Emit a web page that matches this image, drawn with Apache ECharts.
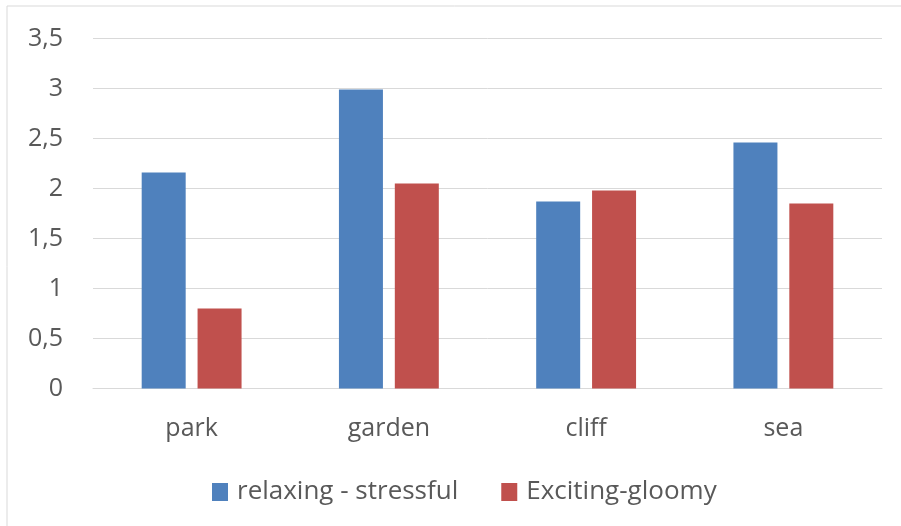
<!DOCTYPE html>
<html>
<head>
<meta charset="utf-8">
<script src="https://cdn.jsdelivr.net/npm/echarts@6/dist/echarts.min.js"></script>
<style>
  html, body { margin: 0; padding: 0; background: #fff; }
  #chart { width: 901px; height: 526px; }
</style>
</head>
<body>
<div id="chart"></div>
<script>
// Scene ratings per location
const categories = ['park', 'garden', 'cliff', 'sea'];
const relaxingStressful = [2.16, 2.99, 1.87, 2.46];
const excitingGloomy = [0.80, 2.05, 1.98, 1.85];
const seriesNames = ['relaxing - stressful', 'Exciting-gloomy'];

const textColor = '#595959';
const fontFamily = '"Open Sans", "DejaVu Sans", sans-serif';

const chart = echarts.init(document.getElementById('chart'), null, { renderer: 'canvas' });
chart.setOption({
  animation: false,
  backgroundColor: '#ffffff',
  graphic: [{
    type: 'rect',
    shape: { x: 7, y: 6, width: 920, height: 540 },
    style: { fill: 'none', stroke: '#d9d9d9', lineWidth: 1 },
    silent: true
  }],
  grid: { left: 93, right: 19, top: 38.5, bottom: 137.5, containLabel: false },
  legend: {
    left: 212,
    top: 479,
    padding: 0,
    itemWidth: 16,
    itemHeight: 18,
    itemGap: 43,
    icon: 'rect',
    textStyle: { color: textColor, fontSize: 26, fontFamily: fontFamily, padding: [0, 0, 0, 4] },
    data: seriesNames
  },
  xAxis: {
    type: 'category',
    data: categories,
    axisTick: { show: false },
    axisLine: { show: true, lineStyle: { color: '#d9d9d9', width: 1 } },
    axisLabel: { color: textColor, fontSize: 25, fontFamily: fontFamily, margin: 28 }
  },
  yAxis: {
    type: 'value',
    min: 0,
    max: 3.5,
    interval: 0.5,
    axisLine: { show: false },
    axisTick: { show: false },
    splitLine: { lineStyle: { color: '#d9d9d9', width: 1 } },
    axisLabel: {
      color: textColor, fontSize: 25, fontFamily: fontFamily, margin: 30,
      formatter: v => String(v).replace('.', ',')
    }
  },
  series: [
    {
      name: seriesNames[0],
      type: 'bar',
      data: relaxingStressful,
      barWidth: 44,
      barGap: '27%',
      itemStyle: { color: '#4f81bd' }
    },
    {
      name: seriesNames[1],
      type: 'bar',
      data: excitingGloomy,
      barWidth: 44,
      itemStyle: { color: '#c0504d' }
    }
  ]
});
</script>
</body>
</html>
